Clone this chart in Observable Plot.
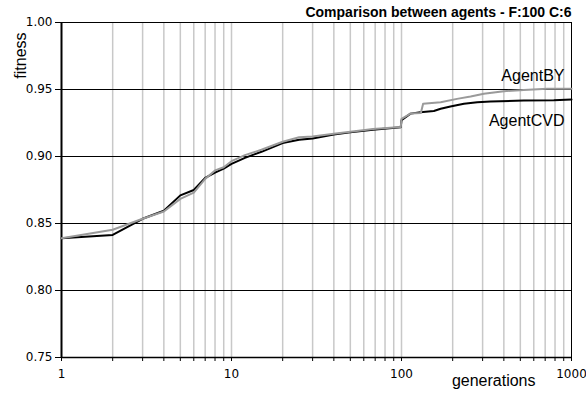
<!DOCTYPE html>
<html><head><meta charset="utf-8">
<script src="https://cdn.jsdelivr.net/npm/d3@7"></script>
<script src="https://cdn.jsdelivr.net/npm/@observablehq/plot@0.6"></script>
<style>body{margin:0;background:#fff}</style>
</head><body><div id="chart"></div>
<script>
// AgentCVD (black)
const genCVD = [1,2,3,4,5,6,7,8,9,10,12,15,20,25,30,40,50,68,99,100,113,129,155,170,194,233,279,334,524,787,1000];
const fitCVD = [0.839,0.8415,0.8535,0.8595,0.871,0.875,0.884,0.888,0.891,0.8945,0.899,0.9035,0.910,0.9125,0.9135,0.9164,0.918,0.920,0.9219,0.927,0.932,0.933,0.934,0.9356,0.9373,0.9393,0.9405,0.941,0.9418,0.942,0.9425];
// AgentBY (gray)
const genBY = [1,2,3,4,5,6,7,8,9,10,12,15,20,25,30,40,50,68,99,100,113,130,134,170,212,255,305,400,524,719,1000];
const fitBY = [0.839,0.8453,0.8535,0.859,0.8684,0.873,0.8833,0.8896,0.892,0.8965,0.901,0.905,0.911,0.9144,0.915,0.917,0.9185,0.9205,0.922,0.928,0.932,0.9325,0.9393,0.9405,0.943,0.9448,0.9468,0.9487,0.9497,0.9505,0.9505];

const majorTicks = [1,10,100,1000];
const gridX = [2,3,4,5,6,7,8,9,10,20,30,40,50,60,70,80,90,100,200,300,400,500,600,700,800,900];
const allXTicks = [1,2,3,4,5,6,7,8,9,10,20,30,40,50,60,70,80,90,100,200,300,400,500,600,700,800,900,1000];
const yTicks = [0.75,0.80,0.85,0.90,0.95,1.00];
const gridY = [0.80,0.85,0.90,0.95,1.00];

const title = "Comparison between agents - F:100 C:6";
const yLabel = "fitness";
const xLabel = "generations";
const seriesNames = ["AgentBY","AgentCVD"];

const dataCVD = genCVD.map((g,i)=>({g, f: fitCVD[i]}));
const dataBY = genBY.map((g,i)=>({g, f: fitBY[i]}));

const arial = "'Liberation Sans', Arial, sans-serif";
const tickFont = "'DejaVu Sans', Verdana, sans-serif";

const chart = Plot.plot({
  width: 586, height: 394,
  marginLeft: 61, marginRight: 15, marginTop: 22, marginBottom: 37,
  style: {background: "#fff", fontFamily: tickFont, fontSize: "12px", color: "#000", overflow: "visible"},
  x: {type: "log", domain: [1, 1000]},
  y: {domain: [0.75, 1.00]},
  marks: [
    Plot.ruleX(gridX, {stroke: "#c8c8c8", strokeWidth: 1.5}),
    Plot.ruleY(gridY, {stroke: "#000", strokeWidth: 1}),
    Plot.ruleY([0.75], {stroke: "#000", strokeWidth: 1.5}),
    Plot.ruleX([1], {stroke: "#000", strokeWidth: 2}),
    Plot.ruleX([1000], {stroke: "#000", strokeWidth: 1}),
    Plot.axisX({ticks: allXTicks, tickSize: 4, tickPadding: 8, label: null,
      tickFormat: d => majorTicks.includes(d) ? String(d) : "", fontSize: 12}),
    Plot.axisY({ticks: yTicks, tickSize: 6, tickPadding: 3, label: null,
      tickFormat: d3.format(".2f"), fontSize: 12}),
    Plot.line(dataCVD, {x: "g", y: "f", stroke: "#000", strokeWidth: 2}),
    Plot.line(dataBY, {x: "g", y: "f", stroke: "#9a9a9a", strokeWidth: 2}),
    Plot.text([title], {frameAnchor: "top-right", textAnchor: "end", lineAnchor: "bottom", dy: -6,
      fontWeight: "bold", fontSize: 14, fontFamily: arial}),
    Plot.text([seriesNames[0]], {frameAnchor: "top-right", textAnchor: "end", lineAnchor: "bottom", dx: -7, dy: 58,
      fontSize: 16, fontFamily: arial}),
    Plot.text([seriesNames[1]], {frameAnchor: "top-right", textAnchor: "end", lineAnchor: "bottom", dx: -7, dy: 103,
      fontSize: 16, fontFamily: arial}),
    Plot.text([yLabel], {frameAnchor: "top-left", textAnchor: "middle", lineAnchor: "bottom", rotate: -90, dx: -36, dy: 33,
      fontSize: 16, fontFamily: arial}),
    Plot.text([xLabel], {frameAnchor: "bottom-right", textAnchor: "end", lineAnchor: "bottom", dx: -36, dy: 28,
      fontSize: 16, fontFamily: arial})
  ]
});
document.getElementById("chart").appendChild(chart);
</script>
</body></html>
